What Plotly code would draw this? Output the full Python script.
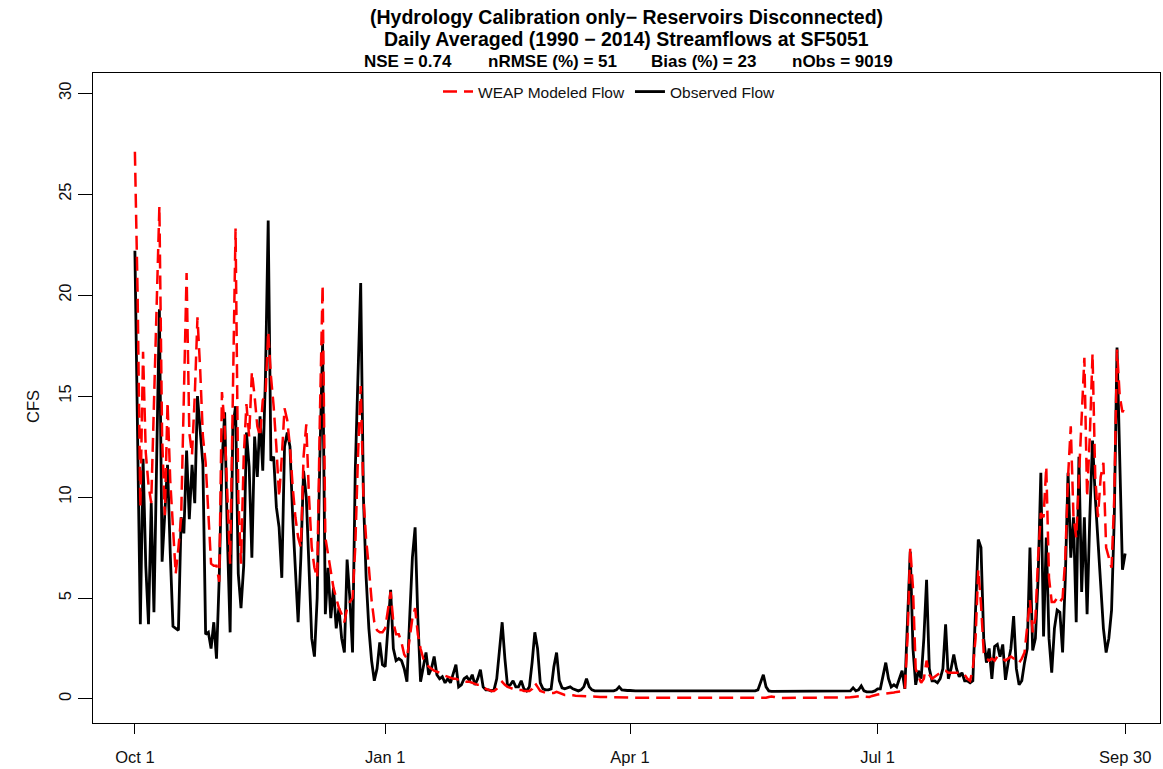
import pandas as pd
import plotly.graph_objects as go

# ---------------- data (daily averaged flows, Oct 1 -> Sep 30) ----------------
dates = pd.date_range("2013-10-01", "2014-09-30", freq="D")

observed = [
    22.2, 12.0, 3.7, 11.9, 6.6, 3.7, 9.7, 4.3, 12.0, 19.3,
    6.8, 9.0, 11.6, 7.2, 3.6, 3.5, 3.4, 9.0, 8.2, 12.3,
    8.9, 11.6, 9.7, 15.0, 13.5, 11.6, 3.2, 3.3, 2.5, 3.8,
    2.0, 6.0, 11.6, 14.2, 8.0, 3.3, 13.5, 14.5, 6.2, 4.5,
    6.6, 13.2, 11.5, 7.0, 13.0, 11.0, 14.0, 11.3, 16.0, 23.7,
    11.8, 12.0, 9.5, 8.5, 6.0, 12.5, 13.2, 12.5, 9.0, 6.0,
    3.8, 7.0, 11.3, 10.0, 6.0, 3.0, 2.1, 5.0, 12.0, 17.6,
    4.2, 6.5, 4.0, 5.5, 3.5, 4.5, 3.0, 2.3, 6.9, 5.0,
    2.3, 11.3, 16.0, 20.6, 10.0, 6.0, 3.5, 1.9, 0.9, 1.5,
    2.8, 1.7, 1.6, 3.5, 5.4, 2.5, 1.9, 2.0, 1.9, 1.5,
    0.85, 4.0, 7.0, 8.5, 4.0, 0.85, 1.5, 2.3, 1.2, 1.5,
    2.1, 1.2, 1.0, 1.1, 0.8, 1.0, 0.8, 1.2, 1.7, 0.6,
    0.7, 1.0, 1.1, 0.9, 1.2, 0.7, 1.0, 1.45, 0.6, 0.45,
    0.45, 0.4, 0.45, 1.0, 2.5, 3.8, 2.0, 0.6, 0.7, 0.9,
    0.6, 0.6, 0.9, 0.5, 0.4, 0.6, 1.8, 3.3, 2.5, 0.8,
    0.5, 0.45, 0.45, 0.5, 1.6, 2.3, 0.9, 0.55, 0.5, 0.55,
    0.6, 0.5, 0.45, 0.4, 0.45, 0.6, 1.0, 0.6, 0.45, 0.4,
    0.4, 0.4, 0.4, 0.4, 0.4, 0.4, 0.4, 0.45, 0.6, 0.45,
    0.42, 0.42, 0.42, 0.4, 0.4, 0.4, 0.4, 0.4, 0.4, 0.4,
    0.4, 0.4, 0.38, 0.38, 0.38, 0.38, 0.38, 0.38, 0.38, 0.38,
    0.38, 0.38, 0.38, 0.38, 0.38, 0.38, 0.38, 0.38, 0.38, 0.38,
    0.38, 0.38, 0.38, 0.38, 0.38, 0.38, 0.38, 0.38, 0.38, 0.38,
    0.38, 0.38, 0.38, 0.38, 0.38, 0.38, 0.38, 0.38, 0.4, 0.45,
    0.8, 1.2, 0.6, 0.4, 0.38, 0.38, 0.38, 0.38, 0.38, 0.38,
    0.38, 0.38, 0.38, 0.38, 0.38, 0.38, 0.38, 0.38, 0.38, 0.38,
    0.38, 0.38, 0.38, 0.38, 0.38, 0.38, 0.38, 0.38, 0.38, 0.38,
    0.38, 0.38, 0.38, 0.4, 0.55, 0.4, 0.45, 0.65, 0.4, 0.35,
    0.35, 0.35, 0.4, 0.5, 0.5, 1.2, 1.8, 1.0, 0.6, 0.7,
    0.6, 1.0, 1.4, 0.5, 3.5, 7.3, 2.5, 0.7, 1.4, 1.0,
    3.0, 5.9, 1.5, 0.9, 0.9, 0.8, 1.0, 1.5, 3.7, 1.0,
    1.5, 2.2, 1.5, 1.1, 1.3, 0.9, 0.9, 0.8, 0.9, 4.5,
    7.9, 7.5, 3.0, 1.8, 2.5, 1.0, 2.6, 2.7, 2.1, 2.7,
    0.95, 1.8, 2.5, 4.1, 1.5, 0.7, 0.9, 1.8, 2.5, 7.5,
    2.4, 3.0, 6.0, 11.2, 3.1, 8.0, 3.0, 1.3, 3.5, 4.4,
    4.3, 2.3, 6.0, 11.2, 7.0, 9.0, 3.8, 12.0, 5.3, 9.0,
    4.2, 9.0, 12.8, 10.0, 8.0, 5.5, 3.5, 2.3, 3.0, 4.4,
    9.0, 17.4, 12.0, 6.4, 7.2,
]

modeled = [
    27.1, 20.0, 9.5, 17.2, 12.2, 10.6, 9.7, 15.0, 19.0, 24.4,
    13.0, 9.1, 14.7, 10.8, 8.5, 6.2, 7.5, 9.0, 15.0, 21.1,
    13.2, 12.1, 15.0, 18.9, 16.3, 13.0, 11.7, 9.5, 6.7, 6.6,
    6.6, 5.8, 15.2, 13.5, 9.9, 6.7, 15.0, 23.3, 10.0, 6.7,
    12.0, 14.6, 13.0, 16.2, 15.0, 13.5, 13.0, 14.8, 15.0, 18.2,
    16.0, 14.5, 12.5, 10.0, 12.0, 14.4, 13.8, 12.5, 10.5, 9.0,
    8.0, 7.5, 12.0, 13.6, 10.0, 7.5, 6.5, 6.0, 14.0, 20.5,
    8.0, 7.2, 6.2, 5.5, 5.0, 4.5, 4.2, 3.8, 4.5, 4.8,
    5.0, 7.5, 12.0, 15.5, 10.0, 7.9, 6.5, 4.9, 3.8, 3.4,
    3.3, 3.3, 3.5, 4.5, 5.3, 3.8, 3.2, 3.2, 2.8, 2.2,
    2.0, 3.0, 4.0, 4.5, 3.2, 2.5, 2.0, 1.8, 1.6, 1.5,
    1.4, 1.35, 1.3, 1.2, 1.15, 1.1, 1.05, 1.0, 1.0, 0.95,
    0.9, 0.9, 0.85, 0.85, 0.8, 0.75, 0.7, 0.7, 0.6, 0.5,
    0.45, 0.4, 0.4, 0.5, 0.7, 0.85, 0.7, 0.6, 0.55, 0.5,
    0.5, 0.45, 0.45, 0.4, 0.4, 0.4, 0.5, 0.8, 0.6, 0.4,
    0.35, 0.3, 0.3, 0.3, 0.3, 0.35, 0.3, 0.25, 0.2, 0.2,
    0.2, 0.18, 0.16, 0.15, 0.14, 0.13, 0.13, 0.12, 0.12, 0.11,
    0.1, 0.1, 0.1, 0.1, 0.09, 0.09, 0.09, 0.08, 0.08, 0.08,
    0.07, 0.07, 0.07, 0.06, 0.06, 0.06, 0.06, 0.06, 0.06, 0.06,
    0.06, 0.06, 0.05, 0.05, 0.05, 0.05, 0.05, 0.05, 0.05, 0.05,
    0.05, 0.05, 0.05, 0.05, 0.05, 0.05, 0.05, 0.05, 0.05, 0.05,
    0.05, 0.05, 0.05, 0.05, 0.05, 0.05, 0.05, 0.05, 0.05, 0.05,
    0.05, 0.05, 0.05, 0.05, 0.05, 0.05, 0.05, 0.05, 0.05, 0.05,
    0.06, 0.06, 0.06, 0.1, 0.12, 0.1, 0.06, 0.05, 0.05, 0.05,
    0.05, 0.05, 0.05, 0.05, 0.05, 0.05, 0.05, 0.05, 0.05, 0.05,
    0.05, 0.05, 0.05, 0.05, 0.05, 0.05, 0.05, 0.05, 0.05, 0.05,
    0.05, 0.05, 0.06, 0.08, 0.1, 0.12, 0.15, 0.15, 0.12, 0.1,
    0.1, 0.15, 0.2, 0.22, 0.24, 0.25, 0.27, 0.28, 0.3, 0.32,
    0.35, 0.37, 0.38, 0.4, 3.0, 7.5, 5.5, 1.5, 1.1, 0.8,
    1.0, 1.9, 1.2, 1.0, 1.1, 1.2, 1.3, 1.4, 1.4, 1.3,
    1.3, 1.3, 1.3, 1.3, 1.3, 1.2, 1.0, 0.9, 1.5, 3.0,
    6.4, 4.7, 2.3, 2.0, 1.9, 2.0, 1.9, 2.1, 2.0, 2.0,
    1.9, 2.0, 2.1, 2.0, 2.0, 1.8, 2.0, 2.3, 3.5, 4.9,
    3.3, 4.0, 7.0, 9.2, 9.0, 11.5, 6.0, 4.8, 4.8, 5.0,
    4.8, 5.0, 7.0, 11.0, 13.5, 9.0, 8.0, 11.0, 14.0, 16.9,
    10.0, 13.0, 17.1, 11.0, 9.0, 11.0, 11.7, 7.5, 7.0, 6.5,
    10.0, 17.3, 15.0, 14.2, 14.5,
]

tick_dates = ["2013-10-01", "2014-01-01", "2014-04-01", "2014-07-01", "2014-09-30"]
tick_labels = ["Oct 1", "Jan 1", "Apr 1", "Jul 1", "Sep 30"]
y_ticks = [0, 5, 10, 15, 20, 25, 30]

title_line1 = "(Hydrology Calibration only\u2212 Reservoirs Disconnected)"
title_line2 = "Daily Averaged (1990 \u2212 2014) Streamflows at SF5051"
stats_labels = ["NSE = 0.74", "nRMSE (%) = 51", "Bias (%) = 23", "nObs = 9019"]

# ---------------- layout geometry ----------------
W, H = 1163, 769
ML, MR, MT, MB = 93, 3, 73, 46
PW, PH = W - ML - MR, H - MT - MB
FONT = "Liberation Sans, Arial, sans-serif"


def px_x(x):
    return (x - ML) / PW


def px_y(y):
    return (H - MB - y) / PH


fig = go.Figure()
fig.add_trace(go.Scatter(
    x=dates, y=observed, mode="lines", name="Observed Flow",
    line=dict(color="black", width=2.8), legendrank=2,
))
fig.add_trace(go.Scatter(
    x=dates, y=modeled, mode="lines", name="WEAP Modeled Flow",
    line=dict(color="#ff0000", width=2.5, dash="14px,7px"), legendrank=1,
))

x_start = dates[0] - pd.Timedelta(days=15.4)
x_end = dates[-1] + pd.Timedelta(days=12.8)

axis_common = dict(
    showline=True, mirror=True, linecolor="black", linewidth=1,
    ticks="outside", tickcolor="black", tickwidth=1,
    showgrid=False, zeroline=False,
    tickfont=dict(family=FONT, size=16.5, color="#111111"),
)

fig.update_xaxes(
    range=[x_start, x_end], tickvals=tick_dates, ticktext=tick_labels,
    ticklen=10, ticklabelstandoff=9, **axis_common,
)
fig.update_yaxes(
    range=[-1.19, 31.0], tickvals=y_ticks, ticktext=[str(v) for v in y_ticks],
    tickangle=-90, ticklen=14, **axis_common,
)

annotations = [
    dict(text="<b>%s</b>" % title_line1, x=0.5, y=px_y(16.5)),
    dict(text="<b>%s</b>" % title_line2, x=0.5, y=px_y(39)),
]
for lbl, cx in zip(stats_labels, [408, 552, 703, 842]):
    annotations.append(dict(text="<b>%s</b>" % lbl, x=px_x(cx), y=px_y(61.5),
                            font=dict(family=FONT, size=17, color="black")))
for a in annotations:
    a.setdefault("font", dict(family=FONT, size=19.5, color="black"))
    a.update(xref="paper", yref="paper", showarrow=False, borderpad=0,
             xanchor="center", yanchor="middle")
annotations.append(dict(
    text="CFS", x=px_x(33), y=px_y(407), xref="paper", yref="paper",
    showarrow=False, textangle=-90, xanchor="center", yanchor="middle",
    font=dict(family=FONT, size=16.5, color="#111111"),
))

fig.update_layout(
    width=W, height=H,
    margin=dict(l=ML, r=MR, t=MT, b=MB),
    paper_bgcolor="white", plot_bgcolor="white",
    annotations=annotations,
    showlegend=True,
    legend=dict(
        orientation="h", x=px_x(438), y=px_y(92), xanchor="left", yanchor="middle",
        font=dict(family=FONT, size=15.5, color="#111111"),
        bgcolor="rgba(0,0,0,0)", borderwidth=0, itemclick=False,
    ),
)

fig.write_html(
    "out.html",
    config={"displayModeBar": False},
    post_script="document.body.style.margin='0';document.body.style.overflow='hidden';",
)
